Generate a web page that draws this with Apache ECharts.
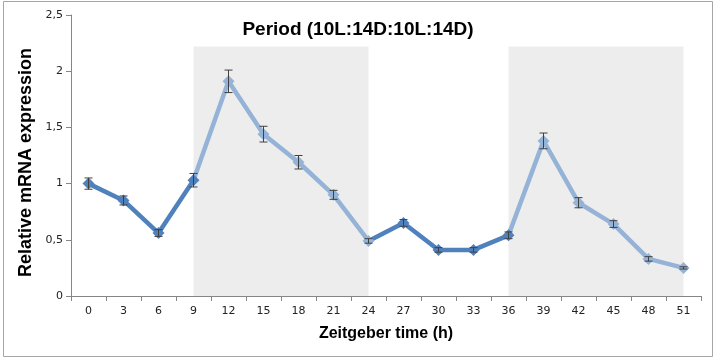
<!DOCTYPE html>
<html><head><meta charset="utf-8">
<script src="https://cdn.jsdelivr.net/npm/echarts@6/dist/echarts.min.js"></script>
<style>html,body{margin:0;padding:0;background:#fff}#c{width:717px;height:360px}</style>
</head><body><div id="c"></div>
<script>
var categories = ['0','3','6','9','12','15','18','21','24','27','30','33','36','39','42','45','48','51'];
var values = [1.00,0.85,0.56,1.03,1.91,1.44,1.19,0.90,0.49,0.65,0.41,0.41,0.54,1.38,0.83,0.64,0.33,0.25];
var errors = [0.05,0.04,0.03,0.06,0.10,0.07,0.06,0.04,0.02,0.03,0.02,0.02,0.03,0.07,0.045,0.03,0.02,0.01];
var shadeRanges = [['9','24'],['36','51']];
var shadeTop = 2.22;

var DARK = '#4F81BD', LIGHT = '#95B3D7';
var errData = values.map(function(v,i){return [i, v-errors[i], v+errors[i]];});
var chart = echarts.init(document.getElementById('c'));
chart.setOption({
  animation:false,
  title:{text:'Period (10L:14D:10L:14D)',left:353,top:15,textAlign:'center',
    textStyle:{fontFamily:'Liberation Sans',fontWeight:'bold',fontSize:19,color:'#000'}},
  grid:{left:71,right:16,top:15,bottom:64},
  xAxis:{type:'category',data:categories,boundaryGap:true,
    name:'Zeitgeber time (h)',nameLocation:'middle',nameGap:30,
    nameTextStyle:{fontFamily:'Liberation Sans',fontWeight:'bold',fontSize:16,color:'#000'},
    axisLine:{lineStyle:{color:'#868686',width:1}},
    axisTick:{show:true,alignWithLabel:false,length:5,lineStyle:{color:'#868686'}},
    axisLabel:{fontFamily:'DejaVu Sans',fontSize:11,color:'#222',margin:10}},
  yAxis:{type:'value',min:0,max:2.5,interval:0.5,
    name:'Relative mRNA expression',nameLocation:'middle',nameGap:30,
    nameTextStyle:{fontFamily:'Liberation Sans',fontWeight:'bold',fontSize:18,color:'#000',padding:[0,14,0,0]},
    axisLine:{show:true,lineStyle:{color:'#868686',width:1}},
    axisTick:{show:true,length:5,inside:false,lineStyle:{color:'#868686'}},
    splitLine:{show:false},
    axisLabel:{fontFamily:'DejaVu Sans',fontSize:11,color:'#222',margin:8,
      formatter:function(v){return String(v).replace('.',',');}}},
  visualMap:{show:false,type:'piecewise',dimension:0,seriesIndex:1,
    pieces:[{lte:3,color:DARK},{gt:3,lte:8,color:LIGHT},{gt:8,lte:12,color:DARK},{gt:12,color:LIGHT}]},
  graphic:[{type:'rect',shape:{x:3.5,y:1.5,width:709,height:355},
    style:{fill:'none',stroke:'#A6A6A6',lineWidth:1},z:-10}],
  series:[
    {type:'line',data:[],z:1,silent:true,
      markArea:{silent:true,itemStyle:{color:'#EDEDED'},
        data:shadeRanges.map(function(r){return [{xAxis:r[0],yAxis:0},{xAxis:r[1],yAxis:shadeTop}];})}},
    {type:'line',data:values,z:3,symbol:'diamond',symbolSize:12,
      lineStyle:{width:4.5},itemStyle:{borderWidth:0}},
    {type:'custom',z:4,data:errData,renderItem:function(params,api){
      var x=api.value(0);
      var lo=api.coord([x,api.value(1)]), hi=api.coord([x,api.value(2)]);
      var w=4, st={stroke:'#404040',lineWidth:1};
      return {type:'group',children:[
        {type:'line',shape:{x1:lo[0],y1:lo[1],x2:hi[0],y2:hi[1]},style:st},
        {type:'line',shape:{x1:lo[0]-w,y1:lo[1],x2:lo[0]+w,y2:lo[1]},style:st},
        {type:'line',shape:{x1:hi[0]-w,y1:hi[1],x2:hi[0]+w,y2:hi[1]},style:st}]};
    }}
  ]
});
</script></body></html>
